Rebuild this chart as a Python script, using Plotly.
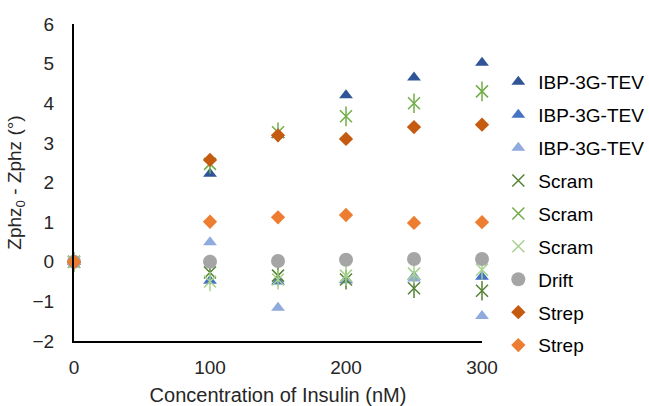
import plotly.graph_objects as go

conc = [0, 100, 150, 200, 250, 300]

names = ["IBP-3G-TEV", "IBP-3G-TEV", "IBP-3G-TEV", "Scram", "Scram", "Scram", "Drift", "Strep", "Strep"]
ibp1 = [0, 2.22, 3.2, 4.2, 4.65, 5.02]
ibp2 = [0, -0.48, -0.5, -0.47, -0.38, -0.38]
ibp3 = [0, 0.49, -1.16, -0.45, -0.42, -1.37]
scram1 = [0, -0.27, -0.35, -0.45, -0.67, -0.73]
scram2 = [0, 2.47, 3.27, 3.67, 4.0, 4.3]
scram3 = [0, -0.5, -0.45, -0.35, -0.3, -0.2]
drift = [0, 0.0, 0.02, 0.05, 0.07, 0.07]
strep1 = [0, 2.57, 3.19, 3.1, 3.4, 3.46]
strep2 = [0, 1.01, 1.12, 1.18, 0.98, 1.0]

series = [ibp1, ibp2, ibp3, scram1, scram2, scram3, drift, strep1, strep2]
colors = ["#2F5597", "#4472C4", "#8FAADC", "#548235", "#70AD47", "#A9D18E", "#A5A5A5", "#C55A11", "#ED7D31"]
symbols = ["triangle-up", "triangle-up", "triangle-up", "x-thin-open", "x-thin-open", "x-thin-open",
           "circle", "diamond", "diamond"]
sizes = [12, 12, 12, 12, 12, 12, 14, 11, 11]

fig = go.Figure()
for i, (nm, ys, c, s, sz) in enumerate(zip(names, series, colors, symbols, sizes)):
    if s == "x-thin-open":
        fig.add_trace(go.Scatter(x=conc, y=ys, mode="markers", showlegend=False, hoverinfo="skip",
                                 cliponaxis=False,
                                 marker=dict(symbol="line-ns-open", size=sz + 2, color=c,
                                             line=dict(color=c, width=1.5))))
        marker = dict(symbol=s, size=sz, color=c, line=dict(color=c, width=1.5))
    else:
        marker = dict(symbol=s, size=sz, color=c, line=dict(width=0))
    fig.add_trace(go.Scatter(x=conc, y=ys, mode="markers", name=nm, legendgroup="g%d" % i,
                             cliponaxis=False, marker=marker))

fig.update_layout(
    width=649, height=406,
    margin=dict(l=74, r=167, t=24, b=65, autoexpand=False),
    paper_bgcolor="white", plot_bgcolor="white",
    font=dict(family="Liberation Sans, Arial", size=19, color="#262626"),
    legend=dict(x=1.04, y=0.877, xanchor="left", yanchor="top", font=dict(size=19, color="#000000"),
                tracegroupgap=5.2, itemwidth=30, bgcolor="rgba(0,0,0,0)"),
    xaxis=dict(range=[0, 300], tickvals=[0, 100, 200, 300], showgrid=False, zeroline=False,
               showline=True, linecolor="black", linewidth=2, ticks="outside", ticklen=0,
               ticklabelstandoff=8, tickfont=dict(size=19),
               title=dict(text="Concentration of Insulin (nM)", font=dict(size=20), standoff=12)),
    yaxis=dict(range=[-2, 6], dtick=1, showgrid=False, zeroline=False,
               showline=True, linecolor="black", linewidth=2, ticks="outside", ticklen=0,
               ticklabelstandoff=14, tickfont=dict(size=19),
               title=dict(text="Zphz<sub>0</sub> - Zphz (°)", font=dict(size=19), standoff=6)),
)

fig.write_html("out.html")
